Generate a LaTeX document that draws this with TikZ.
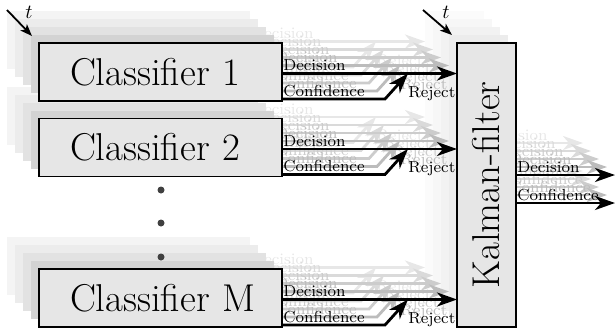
\documentclass[tikz,border=0pt]{standalone}
\usepackage{graphicx}
\usetikzlibrary{arrows.meta,calc}

\definecolor{boxfill}{RGB}{230,230,230}
\definecolor{dotc}{RGB}{64,64,64}
% older time steps fade out
\definecolor{gbox1}{RGB}{211,211,211}
\definecolor{gbox2}{RGB}{226,226,226}
\definecolor{gbox3}{RGB}{236,236,236}
\definecolor{gbox4}{RGB}{244,244,244}
\definecolor{gink1}{RGB}{188,188,188}
\definecolor{gink2}{RGB}{204,204,204}
\definecolor{gink3}{RGB}{218,218,218}
\definecolor{gink4}{RGB}{231,231,231}
\definecolor{gkf1}{RGB}{236,236,236}
\definecolor{gkf2}{RGB}{242,242,242}
\definecolor{gkf3}{RGB}{247,247,247}
\definecolor{gkf4}{RGB}{251,251,251}

\newcommand\bigtext{\fontsize{19.4}{23}\selectfont}
\newcommand\lead{\hspace*{7.75pt}}

\tikzset{
  cls/.style={minimum width=121.5pt, minimum height=29pt, inner sep=0pt, outer sep=0pt},
  kal/.style={minimum width=29.5pt, minimum height=142pt, inner sep=0pt, outer sep=0pt},
  frontbox/.style={draw=black, line width=0.85pt, fill=boxfill},
  clstext/.style={font=\bigtext, text width=106pt, align=left, inner xsep=7.75pt},
  sig/.style={line width=1.4pt, -{Stealth[length=10pt,width=7pt,inset=3pt]}},
  lbl/.style={font=\footnotesize, inner sep=0pt, anchor=south west},
  rej/.style={font=\footnotesize, inner sep=0pt, anchor=base west},
  tick/.style={line width=0.9pt, -{Stealth[length=6pt,width=4.5pt,inset=1.5pt]}},
}

% signal links of one time layer: #1 layer tag, #2 ink colour
\newcommand\stagelinks[2]{%
  \foreach \s in {1,2,3} {
    \coordinate (d\s#1) at ($(c\s#1.east)+(0,1.5)$);
    \coordinate (f\s#1) at ($(c\s#1.south east)+(0,-2)$);
    \coordinate (b\s#1) at ($(f\s#1)+(103,0)$);
    \coordinate (r\s#1) at ($(d\s#1)+(126,0)$);
    \draw[sig,draw=#2] (d\s#1) -- (d\s#1 -| kf#1.west);
    \draw[sig,draw=#2] (f\s#1) -- (b\s#1) -- (r\s#1);
    \node[lbl,text=#2] (dl\s#1) at ($(d\s#1)+(1,-2)$) {Decision};
    \node[lbl,text=#2] (fl\s#1) at ($(f\s#1)+(1,-2)$) {Confidence};
    \node[rej,text=#2] (rl\s#1) at ($(f\s#1)+(126,-2)$) {Reject};
  }
  \coordinate (od#1) at ($(kf#1.east)+(0,-10)$);
  \coordinate (of#1) at ($(kf#1.east)+(0,18)$);
  \coordinate (ode#1) at ($(od#1)+(99,0)$);
  \coordinate (ofe#1) at ($(of#1)+(99,0)$);
  \draw[sig,draw=#2] (od#1) -- (ode#1);
  \draw[sig,draw=#2] (of#1) -- (ofe#1);
  \node[lbl,text=#2] (odl#1) at ($(od#1)+(1,-2)$) {Decision};
  \node[lbl,text=#2] (ofl#1) at ($(of#1)+(1,-2)$) {Confidence};
}

\begin{document}
\begin{tikzpicture}[x=0.5pt,y=-0.5pt]
\useasboundingbox (0,0) rectangle (616,332);

% earlier time steps, farthest first
\foreach \k in {4,3,2,1} {
  \begin{scope}[shift={(-8*\k,-8*\k)}]
    \node[kal, fill=gkf\k] (kfg\k) at (486.5,185) {};
    \node[cls, fill=gbox\k] (c1g\k) at (160.5,72) {};
    \node[cls, fill=gbox\k] (c2g\k) at (160.5,147.5) {};
    \node[cls, fill=gbox\k] (c3g\k) at (160.5,298) {};
    \stagelinks{g\k}{gink\k}
  \end{scope}
}

% current time step
\node[kal, frontbox] (kfn) at (486.5,185) {\rotatebox{90}{\bigtext Kalman-filter}};
\node[cls, frontbox, clstext] (c1n) at (160.5,72) {\lead Classifier 1};
\node[cls, frontbox, clstext] (c2n) at (160.5,147.5) {\lead Classifier 2};
\node[cls, frontbox, clstext] (c3n) at (160.5,298) {\lead Classifier M};
\stagelinks{n}{black}

% vertical ellipsis between the classifiers
\fill[dotc] (161,190) circle[radius=1.75pt];
\fill[dotc] (161,223) circle[radius=1.75pt];
\fill[dotc] (161,257) circle[radius=1.75pt];

% time axis markers
\coordinate (t1s) at (7,10);
\coordinate (t1e) at (32,36);
\draw[tick] (t1s) -- (t1e);
\node[inner sep=0pt] (t1l) at (29,12) {$t$};
\coordinate (t2s) at (423,10);
\coordinate (t2e) at (452,35);
\draw[tick] (t2s) -- (t2e);
\node[inner sep=0pt] (t2l) at (446,12) {$t$};
\end{tikzpicture}
\end{document}
